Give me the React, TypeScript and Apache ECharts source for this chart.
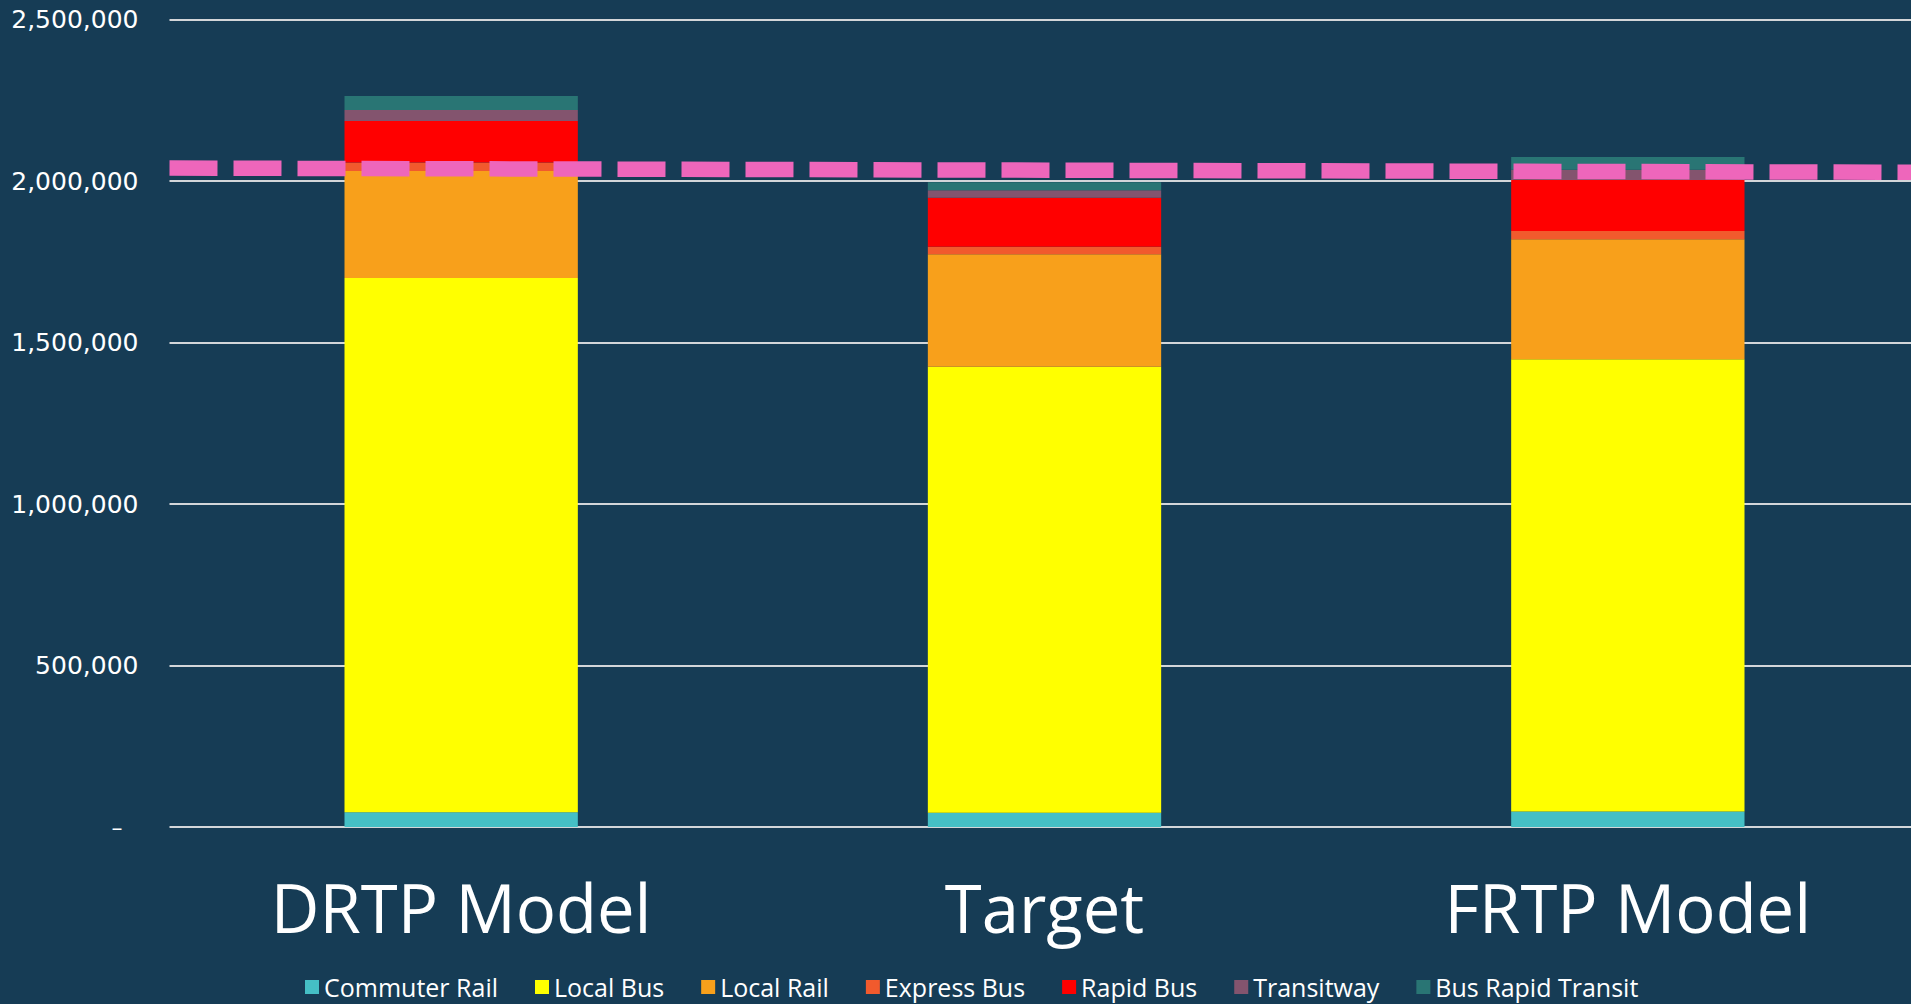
import React, { useEffect, useRef } from "react";
import * as echarts from "echarts";

const categories = ["DRTP Model", "Target", "FRTP Model"];
const commuterRail = [46000, 44000, 48000];
const localBus = [1654000, 1381000, 1400000];
const localRail = [331000, 348000, 372000];
const expressBus = [26000, 23500, 25000];
const rapidBus = [129000, 152000, 158000];
const transitway = [34000, 23000, 32000];
const busRapidTransit = [43000, 25000, 39000];
const targetLine = [2040000, 2027000];
const yTicks = [0, 500000, 1000000, 1500000, 2000000, 2500000];

const seriesDefs = [
  { name: "Commuter Rail", data: commuterRail, color: "#45BFC5" },
  { name: "Local Bus", data: localBus, color: "#FFFF00" },
  { name: "Local Rail", data: localRail, color: "#F8A01B" },
  { name: "Express Bus", data: expressBus, color: "#F15A2D" },
  { name: "Rapid Bus", data: rapidBus, color: "#FF0000" },
  { name: "Transitway", data: transitway, color: "#83546E" },
  { name: "Bus Rapid Transit", data: busRapidTransit, color: "#297574" },
];

export default function App() {
  const ref = useRef<HTMLDivElement>(null);
  useEffect(() => {
    if (!ref.current) return;
    const chart = echarts.init(ref.current, undefined, { renderer: "svg" });
    const option: any = {
      animation: false,
      backgroundColor: "#163C55",
      grid: { left: 169.5, top: 19.5, width: 1750, height: 807.5, containLabel: false },
      legend: {
        data: seriesDefs.map((s) => s.name),
        left: 300,
        top: 969,
        icon: "rect",
        itemWidth: 14,
        itemHeight: 14,
        itemGap: 37,
        textStyle: { color: "#FFFFFF", fontFamily: "Open Sans", fontSize: 25, lineHeight: 26 },
      },
      xAxis: [
        {
          type: "category",
          data: categories,
          axisLine: { show: false },
          axisTick: { show: false },
          axisLabel: {
            color: "#FFFFFF",
            fontFamily: "Open Sans",
            fontSize: 67,
            lineHeight: 67,
            margin: 46.5,
          },
        },
        {
          type: "value",
          min: 0,
          max: 1,
          show: false,
        },
      ],
      yAxis: {
        type: "value",
        min: yTicks[0],
        max: yTicks[yTicks.length - 1],
        interval: 500000,
        axisLine: { show: false },
        axisTick: { show: false },
        splitLine: { lineStyle: { color: "#D3D6D9", width: 2 } },
        axisLabel: {
          margin: 31,
          color: "#FFFFFF",
          fontFamily: "DejaVu Sans",
          fontSize: 25,
          formatter: (v: number) =>
            v === 0 ? "{z|–}" : v.toLocaleString("en-US"),
          rich: { z: { color: "#FFFFFF", fontFamily: "DejaVu Sans", fontSize: 22, padding: [0, 16, 0, 0] } },
        },
      },
      series: [
        ...seriesDefs.map((s) => ({
          name: s.name,
          type: "bar",
          stack: "total",
          barWidth: "40%",
          data: s.data,
          itemStyle: { color: s.color },
          xAxisIndex: 0,
        })),
        {
          name: "Target Line",
          type: "line",
          xAxisIndex: 1,
          data: [
            [0, targetLine[0]],
            [1, targetLine[1]],
          ],
          symbol: "none",
          z: 10,
          lineStyle: { color: "#EE66BB", width: 15.5, type: [48, 16], cap: "butt" },
        },
      ],
    };
    chart.setOption(option);
    return () => chart.dispose();
  }, []);
  return (
    <div style={{ position: "absolute", left: 0, top: 0, width: 1911, height: 1004, overflow: "hidden", background: "#163C55" }}>
      <div ref={ref} style={{ width: 1940, height: 1004, position: "absolute", left: 0, top: 0 }} />
    </div>
  );
}
